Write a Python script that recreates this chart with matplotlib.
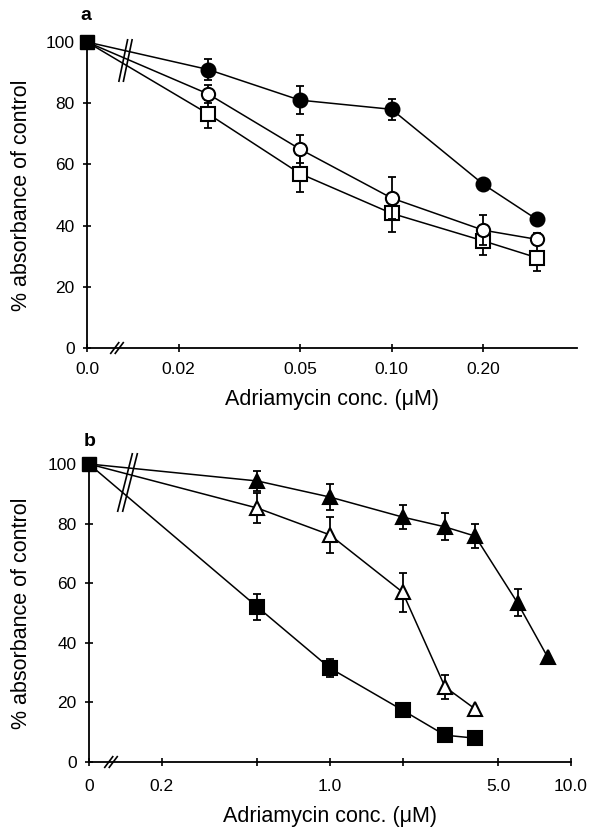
import numpy as np
import matplotlib
matplotlib.use("Agg")
import matplotlib.pyplot as plt
from matplotlib.ticker import FixedLocator, FixedFormatter, NullLocator

plt.rcParams['font.family'] = ['Liberation Sans', 'DejaVu Sans']

# ---------------- Panel a data ----------------
conc_a = [0, 0.025, 0.05, 0.10, 0.20, 0.30]
a_filled_circle = [100, 91, 81, 78, 53.5, 42]
a_filled_circle_err = [0, 3.5, 4.5, 3.5, 0, 0]
a_open_circle = [100, 83, 65, 49, 38.5, 35.5]
a_open_circle_err = [0, 3, 4.6, 7, 5, 2]
a_open_square = [100, 76.5, 57, 44, 35, 29.5]
a_open_square_err = [0, 4.5, 6, 6, 4.5, 4.4]
xticks_a = [0, 0.02, 0.05, 0.10, 0.20]
xticklabels_a = ['0.0', '0.02', '0.05', '0.10', '0.20']
xmax_a = 0.406

# ---------------- Panel b data ----------------
conc_b_long = [0, 0.5, 1.0, 2.0, 3.0, 4.0, 6.0, 8.0]
b_filled_tri = [100, 94.3, 88.9, 82.2, 78.9, 75.8, 53.4, 35.2]
b_filled_tri_err = [0, 3.5, 4.5, 4, 4.5, 4, 4.5, 0]
conc_b = [0, 0.5, 1.0, 2.0, 3.0, 4.0]
b_open_tri = [100, 85.2, 76.2, 57, 25.2, 17.8]
b_open_tri_err = [0, 5, 6, 6.5, 4, 0]
b_filled_sq = [100, 52, 31.5, 17.4, 9, 8]
b_filled_sq_err = [0, 4.5, 3, 0, 0, 0]
xticks_b = [0, 0.2, 0.5, 1.0, 2.0, 5.0, 10.0]
xticklabels_b = ['0', '0.2', '', '1.0', '', '5.0', '10.0']
xmax_b = 10.0

yticks = [0, 20, 40, 60, 80, 100]
ylabel = '% absorbance of control'
xlabel = 'Adriamycin conc. (μM)'

W, H = 591, 827
fig = plt.figure(figsize=(W / 100, H / 100), dpi=100)


def broken_log(zero_at):
    def fwd(x):
        x = np.asarray(x, dtype=float)
        return np.log10(np.where(x <= 0, zero_at, x))

    def inv(y):
        return 10 ** np.asarray(y, dtype=float)
    return fwd, inv


def style_axis(ax, ticks, labels, xmax, zero_at, tick_pad):
    ax.set_xscale('function', functions=broken_log(zero_at))
    ax.set_xlim(0, xmax)
    ax.set_ylim(0, 100)
    ax.xaxis.set_major_locator(FixedLocator(ticks))
    ax.xaxis.set_major_formatter(FixedFormatter(labels))
    ax.xaxis.set_minor_locator(NullLocator())
    ax.yaxis.set_major_locator(FixedLocator(yticks))
    ax.yaxis.set_minor_locator(NullLocator())
    for s in ['top', 'right']:
        ax.spines[s].set_visible(False)
    for s in ['left', 'bottom']:
        ax.spines[s].set_linewidth(1.3)
    ax.tick_params(axis='both', direction='inout', length=6, width=1.2,
                   labelsize=12.5, pad=tick_pad)
    ax.tick_params(axis='y', pad=6)
    ax.set_ylabel(ylabel, fontsize=15.5)
    ax.set_xlabel(xlabel, fontsize=15.5)


def break_mark(ax, cx, cy, hx, hy, sep, lw=1.2):
    # cx, cy in axes fraction; hx, hy, sep in pixels
    bb = ax.get_position()
    wpx, hpx = bb.width * W, bb.height * H
    for off in (-sep / 2, sep / 2):
        x0 = cx + (off - hx) / wpx
        x1 = cx + (off + hx) / wpx
        y0 = cy - hy / hpx
        y1 = cy + hy / hpx
        ax.plot([x0, x1], [y0, y1], color='k', lw=lw, transform=ax.transAxes,
                clip_on=False, zorder=6, solid_capstyle='butt')


def series(ax, x, y, err, marker, face, ms, z):
    ax.errorbar(x[1:], y[1:], yerr=err[1:], fmt='none', ecolor='k',
                elinewidth=1.3, capsize=2.6, capthick=1.3, zorder=z - 1,
                clip_on=False)
    ax.plot(x, y, color='k', lw=1.1, zorder=z - 2, clip_on=False)
    ax.plot(x[1:], y[1:], linestyle='none', marker=marker, ms=ms,
            mfc=face, mec='k', mew=1.5, zorder=z, clip_on=False)


# ---------------- Panel a ----------------
ax1 = fig.add_axes([87 / W, (H - 348) / H, 490 / W, 306 / H])
style_axis(ax1, xticks_a, xticklabels_a, xmax_a, 0.01, 7)
series(ax1, conc_a, a_open_square, a_open_square_err, 's', 'white', 9.5, 5)
series(ax1, conc_a, a_open_circle, a_open_circle_err, 'o', 'white', 9.5, 8)
series(ax1, conc_a, a_filled_circle, a_filled_circle_err, 'o', 'black', 10, 11)
ax1.plot([conc_a[0]], [a_filled_circle[0]], linestyle='none', marker='s', ms=10,
         mfc='black', mec='black', zorder=15, clip_on=False)
break_mark(ax1, (117 - 87) / 490, 0.0, 4.5, 6, 4.5)
break_mark(ax1, (125.5 - 87) / 490, (348 - 60.5) / 306, 4.5, 21.5, 4.5)
ax1.text(-0.003, 1.085, 'a', transform=ax1.transAxes, fontsize=14,
         fontweight='bold', ha='center', va='center')
ax1.yaxis.set_label_coords(-0.112, 0.5)
ax1.xaxis.set_label_coords(0.5, -0.135)

# ---------------- Panel b ----------------
ax2 = fig.add_axes([89 / W, (H - 762) / H, 482 / W, 298 / H])
style_axis(ax2, xticks_b, xticklabels_b, xmax_b, 0.1, 9)
series(ax2, conc_b, b_filled_sq, b_filled_sq_err, 's', 'black', 10, 5)
series(ax2, conc_b, b_open_tri, b_open_tri_err, '^', 'white', 10, 8)
series(ax2, conc_b_long, b_filled_tri, b_filled_tri_err, '^', 'black', 10.5, 11)
ax2.plot([conc_b[0]], [b_filled_sq[0]], linestyle='none', marker='s', ms=10,
         mfc='black', mec='black', zorder=15, clip_on=False)
break_mark(ax2, (111 - 89) / 482, 0.0, 4.5, 6, 4.5)
break_mark(ax2, (127.5 - 89) / 482, (762 - 482.5) / 298, 7.5, 29.5, 5)
ax2.text(0.002, 1.075, 'b', transform=ax2.transAxes, fontsize=14,
         fontweight='bold', ha='center', va='center')
ax2.yaxis.set_label_coords(-0.118, 0.5)
ax2.xaxis.set_label_coords(0.5, -0.148)

fig.savefig('out.png', dpi=100)
